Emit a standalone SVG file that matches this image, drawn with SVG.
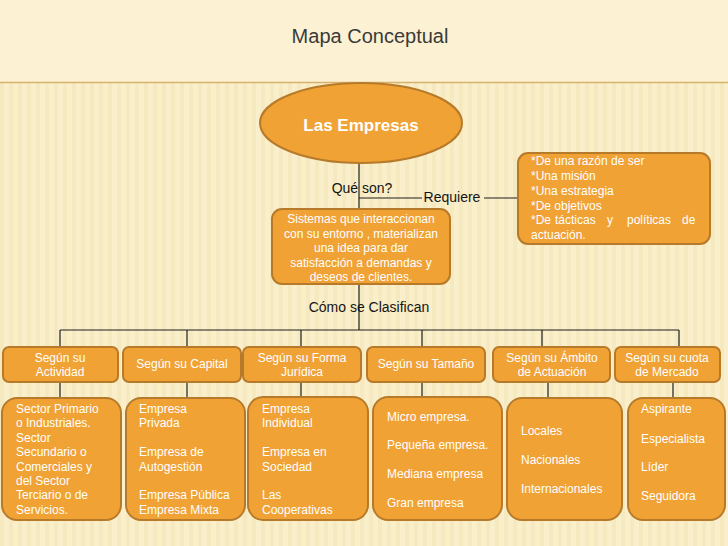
<svg xmlns="http://www.w3.org/2000/svg" width="728" height="546" viewBox="0 0 728 546">
<defs>
<pattern id="stripes" width="9" height="9" patternUnits="userSpaceOnUse">
<rect width="9" height="9" fill="#FAEFCB"/>
<rect x="0" width="4" height="9" fill="#F2E2B4" opacity="0.55"/>
</pattern>
<style>
.box{fill:#F0A235;stroke:#B67A2A;stroke-width:2}
.t{font-family:"Liberation Sans",Arial,sans-serif;fill:#FFFFFF;font-size:12px}
.c{text-anchor:middle}
.lbl{font-family:"Liberation Sans",Arial,sans-serif;fill:#151515;font-size:14px}
.con line{stroke:#1E1E1E;stroke-width:1.2}
</style>
</defs>
<rect width="728" height="546" fill="url(#stripes)"/>
<rect width="728" height="82" fill="#FCF2D3"/>
<line x1="0" y1="82.5" x2="728" y2="82.5" stroke="#D6B26C" stroke-width="1.5"/>
<g id="title">
<text x="370" y="43" text-anchor="middle" font-family="'Liberation Sans',Arial,sans-serif" font-size="20" fill="#3A3A3A">Mapa Conceptual</text>
</g>
<g class="con" id="connectors">
<line x1="359" y1="163" x2="359" y2="209"/>
<line x1="359" y1="198" x2="422" y2="198"/>
<line x1="484" y1="198" x2="518" y2="198"/>
<line x1="359" y1="284" x2="359" y2="330"/>
<line x1="60" y1="330" x2="679" y2="330"/>
<line x1="60" y1="330" x2="60" y2="347"/>
<line x1="187" y1="330" x2="187" y2="347"/>
<line x1="301" y1="330" x2="301" y2="347"/>
<line x1="422" y1="330" x2="422" y2="347"/>
<line x1="542" y1="330" x2="542" y2="347"/>
<line x1="679" y1="330" x2="679" y2="347"/>
<line x1="60" y1="382" x2="60" y2="398"/>
<line x1="187" y1="382" x2="187" y2="398"/>
<line x1="301" y1="382" x2="301" y2="397"/>
<line x1="422" y1="382" x2="422" y2="397"/>
<line x1="548" y1="382" x2="548" y2="398"/>
<line x1="673" y1="382" x2="673" y2="398"/>
</g>
<g id="labels">
<text class="lbl" x="362" y="193" text-anchor="middle">Qué son?</text>
<text class="lbl" x="452" y="202" text-anchor="middle">Requiere</text>
<text class="lbl" x="369" y="312" text-anchor="middle">Cómo se Clasifican</text>
</g>
<g id="empresas">
<ellipse class="box" cx="361" cy="123" rx="101" ry="40"/>
<text x="361" y="131" text-anchor="middle" font-family="'Liberation Sans',Arial,sans-serif" font-size="17" font-weight="bold" fill="#FFFFFF">Las Empresas</text>
</g>
<g id="sistemas">
<rect class="box" x="272" y="209" width="178" height="75" rx="10"/>
<text class="t c" x="361" y="223">Sistemas que interaccionan</text>
<text class="t c" x="361" y="237.5">con su entorno , materializan</text>
<text class="t c" x="361" y="252">una idea para dar</text>
<text class="t c" x="361" y="266.5">satisfacción a demandas y</text>
<text class="t c" x="361" y="281">deseos de clientes.</text>
</g>
<g id="requiere">
<rect class="box" x="518" y="153" width="192" height="91" rx="10"/>
<text class="t" x="531" y="165">*De una razón de ser</text>
<text class="t" x="531" y="180">*Una misión</text>
<text class="t" x="531" y="195">*Una estrategia</text>
<text class="t" x="531" y="210">*De objetivos</text>
<text class="t" y="224"><tspan x="531">*De</tspan><tspan x="555">tácticas</tspan><tspan x="607">y</tspan><tspan x="627">políticas</tspan><tspan x="682">de</tspan></text>
<text class="t" x="531" y="239">actuación.</text>
</g>
<g id="cat-actividad">
<rect class="box" x="3" y="347" width="115" height="35" rx="6"/>
<text class="t c" x="60" y="361.5">Según su</text>
<text class="t c" x="60" y="376">Actividad</text>
</g>
<g id="cat-capital">
<rect class="box" x="123" y="347" width="118" height="35" rx="6"/>
<text class="t c" x="182" y="368">Según su Capital</text>
</g>
<g id="cat-forma">
<rect class="box" x="243" y="347" width="118" height="35" rx="6"/>
<text class="t c" x="302" y="361.5">Según su Forma</text>
<text class="t c" x="302" y="376">Jurídica</text>
</g>
<g id="cat-tamano">
<rect class="box" x="367" y="347" width="118" height="35" rx="6"/>
<text class="t c" x="426" y="368">Según su Tamaño</text>
</g>
<g id="cat-ambito">
<rect class="box" x="493" y="347" width="117" height="35" rx="6"/>
<text class="t c" x="552" y="361.5">Según su Ámbito</text>
<text class="t c" x="552" y="376">de Actuación</text>
</g>
<g id="cat-cuota">
<rect class="box" x="615" y="347" width="105" height="35" rx="6"/>
<text class="t c" x="667" y="361.5">Según su cuota</text>
<text class="t c" x="667" y="376">de Mercado</text>
</g>
<g id="det-actividad">
<rect class="box" x="2" y="398" width="119" height="122" rx="15"/>
<text class="t" x="16" y="413">Sector Primario</text>
<text class="t" x="16" y="427.4">o Industriales.</text>
<text class="t" x="16" y="441.8">Sector</text>
<text class="t" x="16" y="456.2">Secundario o</text>
<text class="t" x="16" y="470.6">Comerciales y</text>
<text class="t" x="16" y="485">del Sector</text>
<text class="t" x="16" y="499.4">Terciario o de</text>
<text class="t" x="16" y="513.8">Servicios.</text>
</g>
<g id="det-capital">
<rect class="box" x="126" y="398" width="119" height="122" rx="15"/>
<text class="t" x="139" y="413">Empresa</text>
<text class="t" x="139" y="427.4">Privada</text>
<text class="t" x="139" y="456.2">Empresa de</text>
<text class="t" x="139" y="470.6">Autogestión</text>
<text class="t" x="139" y="499.4">Empresa Pública</text>
<text class="t" x="139" y="513.8">Empresa Mixta</text>
</g>
<g id="det-forma">
<rect class="box" x="248" y="397" width="120" height="123" rx="15"/>
<text class="t" x="262" y="413">Empresa</text>
<text class="t" x="262" y="427.4">Individual</text>
<text class="t" x="262" y="456.2">Empresa en</text>
<text class="t" x="262" y="470.6">Sociedad</text>
<text class="t" x="262" y="499.4">Las</text>
<text class="t" x="262" y="513.8">Cooperativas</text>
</g>
<g id="det-tamano">
<rect class="box" x="373" y="397" width="129" height="123" rx="15"/>
<text class="t" x="387" y="421">Micro empresa.</text>
<text class="t" x="387" y="449">Pequeña empresa.</text>
<text class="t" x="387" y="478">Mediana empresa</text>
<text class="t" x="387" y="507">Gran empresa</text>
</g>
<g id="det-ambito">
<rect class="box" x="507" y="398" width="115" height="122" rx="15"/>
<text class="t" x="521" y="435">Locales</text>
<text class="t" x="521" y="464">Nacionales</text>
<text class="t" x="521" y="493">Internacionales</text>
</g>
<g id="det-cuota">
<rect class="box" x="628" y="398" width="97" height="122" rx="15"/>
<text class="t" x="641" y="413">Aspirante</text>
<text class="t" x="641" y="443">Especialista</text>
<text class="t" x="641" y="471">Líder</text>
<text class="t" x="641" y="500">Seguidora</text>
</g>
</svg>
